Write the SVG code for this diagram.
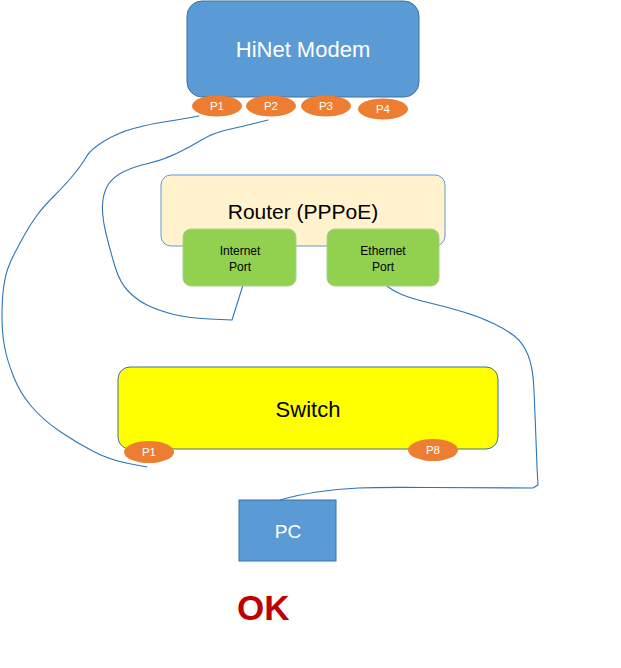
<svg xmlns="http://www.w3.org/2000/svg" width="621" height="668" viewBox="0 0 621 668">
<style>
.blue{fill:#5B9BD5;stroke:#41719C;stroke-width:1}
.port{fill:#ED7D31;stroke:none}
.green{fill:#92D050;stroke:#A9D18E;stroke-width:1}
.wt{font-family:"Liberation Sans",Arial,sans-serif;fill:#fff;text-anchor:middle}
.bt{font-family:"Liberation Sans",Arial,sans-serif;fill:#000;text-anchor:middle}
.pt{font-family:"Liberation Sans",Arial,sans-serif;fill:#fff;text-anchor:middle;font-size:11.5px}
.wire{fill:none;stroke:#2E75B6;stroke-width:1.1;stroke-linejoin:round;stroke-linecap:round}
</style>
<rect width="621" height="668" fill="#fff"/>
<g id="connectors">
<path class="wire" d="M199,116 L188,118 Q177,120 163.5,122 Q150,124 133.5,128.5 Q117,133 103.5,141.5 Q90,150 86.5,156.5 Q83,163 75,173 Q67,183 55,195 Q43,207 36.5,216 Q30,225 25,234 Q20,243 15,252.5 Q10,262 7.5,269.5 Q5,277 3.5,288.5 Q2,300 2,316.5 Q2,333 4.5,346.5 Q7,360 13.5,376.5 Q20,393 31.5,406.5 Q43,420 60,431.5 Q77,443 93.5,451.5 Q110,460 128.5,463.5 L147,467"/>
<path class="wire" d="M268,120 L254,123.5 Q240,127 226.5,130 Q213,133 201.5,140 Q190,147 176.5,153.5 Q163,160 148,163.5 Q133,167 123,172 Q113,177 108,185 Q103,193 102.5,205 Q102,217 106,233.5 Q110,250 115,266.5 Q120,283 128.5,291.5 Q137,300 147,305 Q157,310 172,314 Q187,318 209.5,319 L232,320 L243,285"/>
<path class="wire" d="M384,284 L390.5,288.5 Q397,293 407,296.5 Q417,300 432,303.5 Q447,307 463.5,312 Q480,317 493.5,323.5 Q507,330 515,336.5 Q523,343 528,355 Q533,367 534,390 Q535,413 536,440 L537,467 L538,485 L533,488 L430,487.5 Q380,487 358.5,488 Q337,489 317,492 Q297,495 280,500"/>
</g>
<g id="modem">
<rect class="blue" x="187" y="1" width="232" height="96" rx="15"/>
<text class="wt" x="303" y="57" font-size="22">HiNet Modem</text>
</g>
<g id="modem-p1"><ellipse class="port" cx="217" cy="106" rx="25" ry="10.5"/><text class="pt" x="217" y="110">P1</text></g>
<g id="modem-p2"><ellipse class="port" cx="271" cy="106" rx="25" ry="10.5"/><text class="pt" x="271" y="110">P2</text></g>
<g id="modem-p3"><ellipse class="port" cx="326" cy="106" rx="25" ry="10.5"/><text class="pt" x="326" y="110">P3</text></g>
<g id="modem-p4"><ellipse class="port" cx="383" cy="109" rx="25" ry="10.5"/><text class="pt" x="383" y="113">P4</text></g>
<g id="router">
<rect x="161" y="175" width="284" height="71" rx="10" fill="#FFF2CC" stroke="#5B9BD5" stroke-width="1"/>
<text class="bt" x="303" y="219" font-size="21">Router (PPPoE)</text>
</g>
<g id="internet-port">
<rect class="green" x="183" y="229" width="113" height="57" rx="8"/>
<text class="bt" x="240" y="255" font-size="12">Internet</text>
<text class="bt" x="240" y="271" font-size="12">Port</text>
</g>
<g id="ethernet-port">
<rect class="green" x="327" y="229" width="112" height="57" rx="8"/>
<text class="bt" x="383" y="255" font-size="12">Ethernet</text>
<text class="bt" x="383" y="271" font-size="12">Port</text>
</g>
<g id="switch">
<rect x="118" y="367" width="380" height="82" rx="12" fill="#FFFF00" stroke="#41719C" stroke-width="1"/>
<text class="bt" x="308" y="417" font-size="22">Switch</text>
</g>
<g id="switch-p1"><ellipse class="port" cx="149" cy="452" rx="25" ry="11"/><text class="pt" x="149" y="456">P1</text></g>
<g id="switch-p8"><ellipse class="port" cx="433" cy="450" rx="25" ry="11"/><text class="pt" x="433" y="454">P8</text></g>
<g id="pc">
<rect class="blue" x="239" y="500" width="97" height="61"/>
<text class="wt" x="288" y="538" font-size="19">PC</text>
</g>
<g id="ok">
<text x="237" y="620" font-family="'Liberation Sans',Arial,sans-serif" font-weight="bold" font-size="35" fill="#C00000">OK</text>
</g>
</svg>
